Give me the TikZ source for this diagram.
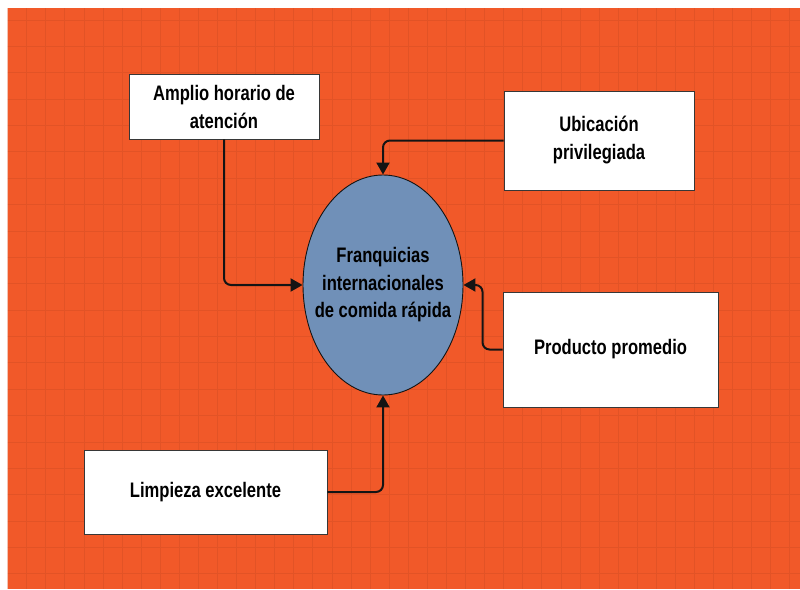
\documentclass[tikz,border=0pt]{standalone}
\usepackage{fontspec}
\setmainfont[FakeStretch=0.79]{Liberation Sans}
\usepackage{tikz}
\usetikzlibrary{arrows.meta,positioning,shapes.geometric}
\definecolor{bgorange}{RGB}{241,89,41}
\definecolor{gridorange}{RGB}{226,83,38}
\definecolor{hubblue}{RGB}{112,144,184}
\definecolor{ink}{RGB}{20,20,20}

\begin{document}
\begin{tikzpicture}[x=1pt,y=-1pt,
  box/.style={draw=ink!85, fill=white, line width=0.9pt, align=center, inner sep=2pt,
    font=\bfseries\fontsize{21}{28}\selectfont},
  hub/.style={ellipse, draw=ink, fill=hubblue, line width=0.9pt, inner sep=0pt,
    minimum width=160pt, minimum height=220pt},
  hubtext/.style={align=center, font=\bfseries\fontsize{21}{27.5}\selectfont},
  flow/.style={ink, line width=2pt, rounded corners=7pt, -{Triangle[length=12pt,width=13pt]}}]
  % page + orange canvas
  \useasboundingbox (0,0) rectangle (800,589);
  \fill[white] (0,0) rectangle (800,589);
  \fill[bgorange] (7.6,8) rectangle (800,589);
  % grid
  \begin{scope}
    \clip (7.6,8) rectangle (800,589);
    \foreach \i in {0,...,41} \draw[gridorange, line width=0.8pt] ({7.6+19.08*\i},8) -- ++(0,581);
    \foreach \j in {0,...,21} \draw[gridorange, line width=0.8pt] (7.6,{20+26.37*\j}) -- ++(792.4,0);
  \end{scope}
  % central topic
  \node[hub, label={[hubtext]center:Franquicias\\internacionales\\de comida rápida}] (franq) at (383,285) {};
  % factors
  \node[box, minimum width=190pt, minimum height=65pt] (amplio) at (224,106.5) {Amplio horario de\\atención};
  \node[box, minimum width=190pt, minimum height=99pt] (ubic) at (599,140.5) {Ubicación\\privilegiada};
  \node[box, minimum width=215pt, minimum height=115pt] (prod) at (610.5,349.5) {Producto promedio};
  \node[box, minimum width=243pt, minimum height=84pt] (limp) at (205.5,492) {Limpieza excelente};
  % connectors
  \draw[flow] (amplio.south) |- (franq.west);
  \draw[flow] (ubic.west) -| (franq.north);
  \draw[flow] (prod.west) -- ++(-20,0) |- (franq.east);
  \draw[flow] (limp.east) -| (franq.south);
\end{tikzpicture}
\end{document}
